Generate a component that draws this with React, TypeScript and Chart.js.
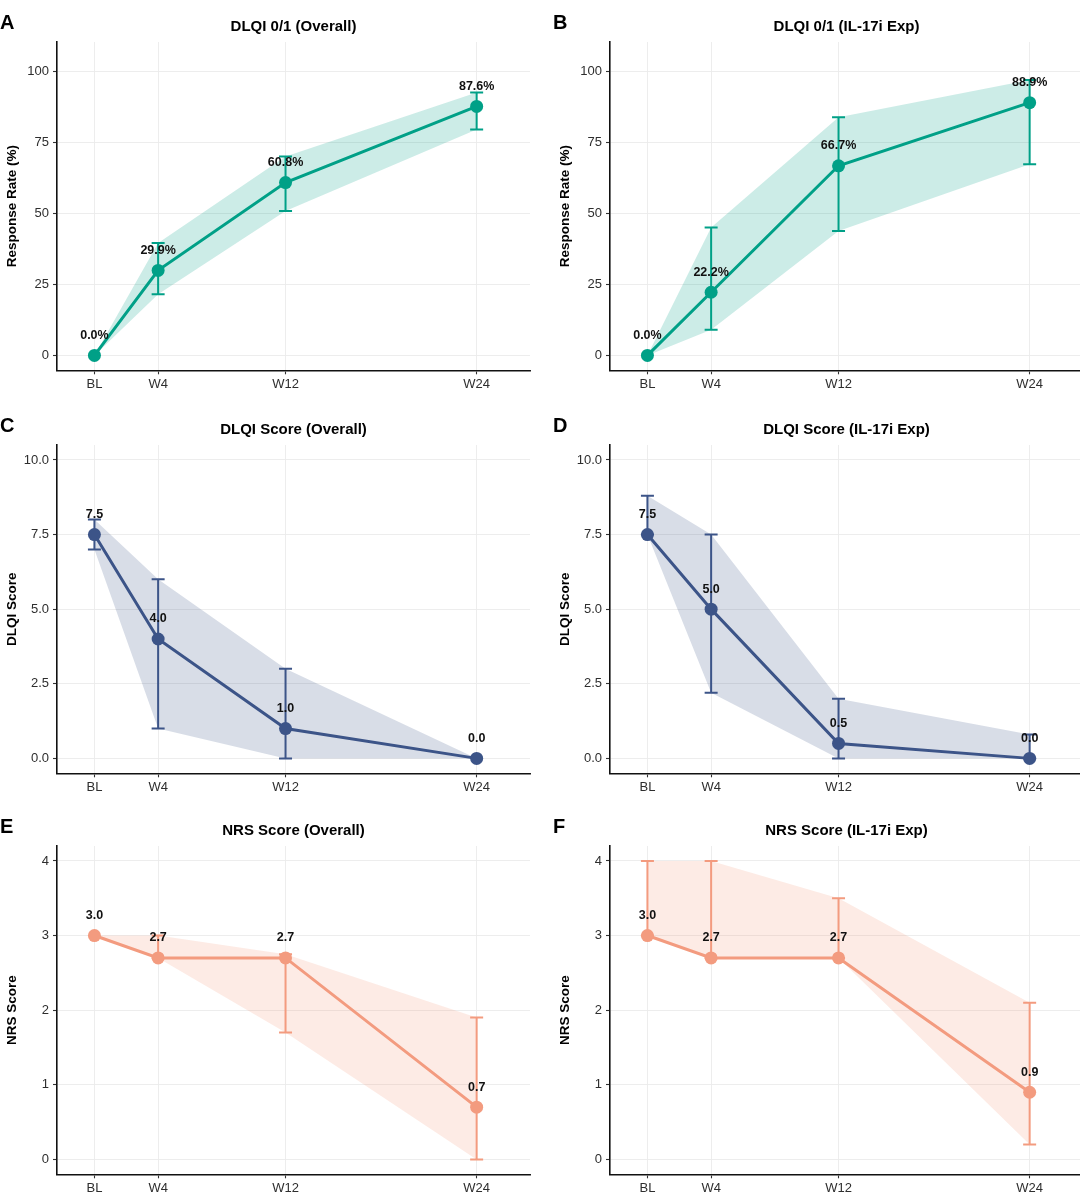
import React, { useEffect, useRef } from 'react';
import { Chart, registerables } from 'chart.js';

Chart.register(...registerables);

// ---------- data ----------
const weeks = [0, 4, 12, 24];
const weekLabels = ['BL', 'W4', 'W12', 'W24'];

const dlqi01OverallMean = [0.0, 29.9, 60.8, 87.6];
const dlqi01OverallLower = [0.0, 21.5, 50.8, 79.5];
const dlqi01OverallUpper = [0.0, 39.5, 70.0, 92.5];

const dlqi01Il17Mean = [0.0, 22.2, 66.7, 88.9];
const dlqi01Il17Lower = [0.0, 9.0, 43.8, 67.2];
const dlqi01Il17Upper = [0.0, 45.0, 83.8, 96.9];

const dlqiOverallMean = [7.5, 4.0, 1.0, 0.0];
const dlqiOverallLower = [7.0, 1.0, 0.0, 0.0];
const dlqiOverallUpper = [8.0, 6.0, 3.0, 0.0];

const dlqiIl17Mean = [7.5, 5.0, 0.5, 0.0];
const dlqiIl17Lower = [7.5, 2.2, 0.0, 0.0];
const dlqiIl17Upper = [8.8, 7.5, 2.0, 0.8];

const nrsOverallMean = [3.0, 2.7, 2.7, 0.7];
const nrsOverallLower = [3.0, 2.7, 1.7, 0.0];
const nrsOverallUpper = [3.0, 3.0, 2.75, 1.9];

const nrsIl17Mean = [3.0, 2.7, 2.7, 0.9];
const nrsIl17Lower = [3.0, 2.7, 2.7, 0.2];
const nrsIl17Upper = [4.0, 4.0, 3.5, 2.1];

const rateTicks = [0, 25, 50, 75, 100];
const dlqiTicks = [0, 2.5, 5, 7.5, 10];
const nrsTicks = [0, 1, 2, 3, 4];

const TEAL = '#00A087';
const NAVY = '#3C5488';
const SALMON = '#F39B7F';
const TEAL_FILL = 'rgba(0,160,135,0.2)';
const NAVY_FILL = 'rgba(60,84,136,0.2)';
const SALMON_FILL = 'rgba(243,155,127,0.2)';

const FONT = '"Liberation Sans", Arial, Helvetica, sans-serif';

type Panel = {
  letter: string;
  title: string;
  yTitle: string;
  mean: number[];
  lower: number[];
  upper: number[];
  color: string;
  fill: string;
  yMin: number;
  yMax: number;
  yTicks: number[];
  yDecimals: number;
  suffix: string;
  left: number;
  top: number;
};

const COL = [0, 553];
const ROW = [0, 402.5, 804];

const panels: Panel[] = [
  { letter: 'A', title: 'DLQI 0/1 (Overall)', yTitle: 'Response Rate (%)', mean: dlqi01OverallMean, lower: dlqi01OverallLower, upper: dlqi01OverallUpper, color: TEAL, fill: TEAL_FILL, yMin: -5.25, yMax: 110.25, yTicks: rateTicks, yDecimals: 0, suffix: '%', left: COL[0], top: ROW[0] },
  { letter: 'B', title: 'DLQI 0/1 (IL-17i Exp)', yTitle: 'Response Rate (%)', mean: dlqi01Il17Mean, lower: dlqi01Il17Lower, upper: dlqi01Il17Upper, color: TEAL, fill: TEAL_FILL, yMin: -5.25, yMax: 110.25, yTicks: rateTicks, yDecimals: 0, suffix: '%', left: COL[1], top: ROW[0] },
  { letter: 'C', title: 'DLQI Score (Overall)', yTitle: 'DLQI Score', mean: dlqiOverallMean, lower: dlqiOverallLower, upper: dlqiOverallUpper, color: NAVY, fill: NAVY_FILL, yMin: -0.5, yMax: 10.5, yTicks: dlqiTicks, yDecimals: 1, suffix: '', left: COL[0], top: ROW[1] },
  { letter: 'D', title: 'DLQI Score (IL-17i Exp)', yTitle: 'DLQI Score', mean: dlqiIl17Mean, lower: dlqiIl17Lower, upper: dlqiIl17Upper, color: NAVY, fill: NAVY_FILL, yMin: -0.5, yMax: 10.5, yTicks: dlqiTicks, yDecimals: 1, suffix: '', left: COL[1], top: ROW[1] },
  { letter: 'E', title: 'NRS Score (Overall)', yTitle: 'NRS Score', mean: nrsOverallMean, lower: nrsOverallLower, upper: nrsOverallUpper, color: SALMON, fill: SALMON_FILL, yMin: -0.2, yMax: 4.2, yTicks: nrsTicks, yDecimals: 0, suffix: '', left: COL[0], top: ROW[2] },
  { letter: 'F', title: 'NRS Score (IL-17i Exp)', yTitle: 'NRS Score', mean: nrsIl17Mean, lower: nrsIl17Lower, upper: nrsIl17Upper, color: SALMON, fill: SALMON_FILL, yMin: -0.2, yMax: 4.2, yTicks: nrsTicks, yDecimals: 0, suffix: '', left: COL[1], top: ROW[2] },
];

const CANVAS_W = 540;
const CANVAS_H = 400;

function PanelChart({ p }: { p: Panel }) {
  const ref = useRef<HTMLCanvasElement | null>(null);

  useEffect(() => {
    if (!ref.current) return;
    const pts = (arr: number[]) => weeks.map((w, i) => ({ x: w, y: arr[i] }));

    const decor = {
      id: 'decor',
      beforeDatasetDraw(chart: any, args: any) {
        if (args.index !== 0) return;
        const { ctx, scales } = chart;
        const x = scales.x;
        const y = scales.y;
        ctx.save();
        ctx.strokeStyle = p.color;
        ctx.lineWidth = 2;
        ctx.lineCap = 'butt';
        weeks.forEach((w, i) => {
          const px = x.getPixelForValue(w);
          const y1 = y.getPixelForValue(p.lower[i]);
          const y2 = y.getPixelForValue(p.upper[i]);
          if (Math.abs(y1 - y2) < 0.5) return;
          ctx.beginPath();
          ctx.moveTo(px, y1);
          ctx.lineTo(px, y2);
          ctx.moveTo(px - 6.5, y1);
          ctx.lineTo(px + 6.5, y1);
          ctx.moveTo(px - 6.5, y2);
          ctx.lineTo(px + 6.5, y2);
          ctx.stroke();
        });
        ctx.restore();
      },
      afterDatasetsDraw(chart: any) {
        const { ctx, scales } = chart;
        const x = scales.x;
        const y = scales.y;
        ctx.save();
        ctx.font = `bold 12.5px ${FONT}`;
        ctx.fillStyle = '#111';
        ctx.textAlign = 'center';
        ctx.textBaseline = 'middle';
        weeks.forEach((w, i) => {
          const px = x.getPixelForValue(w);
          const py = y.getPixelForValue(p.mean[i]);
          ctx.fillText(p.mean[i].toFixed(1) + p.suffix, px, py - 20);
        });
        ctx.restore();
      },
      afterDraw(chart: any) {
        const { ctx, chartArea } = chart;
        ctx.save();
        ctx.fillStyle = '#000';
        ctx.font = `bold 20px ${FONT}`;
        ctx.textAlign = 'left';
        ctx.textBaseline = 'alphabetic';
        ctx.fillText(p.letter, 0, 28.5);
        ctx.font = `bold 15px ${FONT}`;
        ctx.textAlign = 'center';
        ctx.fillText(p.title, (chartArea.left + chartArea.right) / 2, 30.5);
        ctx.restore();
      },
    };

    const chart = new Chart(ref.current, {
      type: 'line',
      data: {
        datasets: [
          {
            data: pts(p.mean),
            borderColor: p.color,
            backgroundColor: p.color,
            borderWidth: 3,
            pointRadius: 6.5,
            pointBorderWidth: 0,
            pointBackgroundColor: p.color,
            fill: false,
            tension: 0,
          },
          {
            data: pts(p.lower),
            borderColor: 'rgba(0,0,0,0)',
            borderWidth: 0,
            pointRadius: 0,
            fill: false,
            tension: 0,
          },
          {
            data: pts(p.upper),
            borderColor: 'rgba(0,0,0,0)',
            backgroundColor: p.fill,
            borderWidth: 0,
            pointRadius: 0,
            fill: '-1',
            tension: 0,
          },
        ],
      },
      options: {
        animation: false,
        responsive: false,
        maintainAspectRatio: false,
        events: [],
        layout: { padding: { top: 42, right: 10, left: 0, bottom: 0 } },
        plugins: {
          legend: { display: false },
          tooltip: { enabled: false },
          title: { display: false },
        },
        scales: {
          x: {
            type: 'linear',
            min: -2.35,
            max: 27.35,
            afterBuildTicks: (scale: any) => {
              scale.ticks = weeks.map((v) => ({ value: v }));
            },
            afterFit: (scale: any) => {
              scale.height = 29.7;
            },
            ticks: {
              autoSkip: false,
              maxRotation: 0,
              padding: 2,
              color: '#2e2e2e',
              font: { family: FONT, size: 13 },
              callback: (v: any) => {
                const i = weeks.indexOf(Number(v));
                return i >= 0 ? weekLabels[i] : '';
              },
            },
            grid: {
              color: '#ebebeb',
              lineWidth: 0.9,
              drawTicks: true,
              tickLength: 4,
              tickColor: '#333',
              tickWidth: 1.1,
            },
            border: { display: true, color: '#111', width: 1.6 },
          },
          y: {
            type: 'linear',
            min: p.yMin,
            max: p.yMax,
            afterBuildTicks: (scale: any) => {
              scale.ticks = p.yTicks.map((v) => ({ value: v }));
            },
            afterFit: (scale: any) => {
              scale.width = 57;
            },
            ticks: {
              padding: 4,
              color: '#2e2e2e',
              font: { family: FONT, size: 13 },
              callback: (v: any) => Number(v).toFixed(p.yDecimals),
            },
            grid: {
              color: '#ebebeb',
              lineWidth: 0.9,
              drawTicks: true,
              tickLength: 4,
              tickColor: '#333',
              tickWidth: 1.1,
            },
            border: { display: true, color: '#111', width: 1.6 },
            title: {
              display: true,
              text: p.yTitle,
              color: '#000',
              font: { family: FONT, size: 13.5, weight: 'bold' },
              padding: { top: 4, bottom: 0 },
            },
          },
        },
      },
      plugins: [decor],
    } as any);

    return () => chart.destroy();
  }, [p]);

  return (
    <div style={{ position: 'absolute', left: p.left, top: p.top, width: CANVAS_W, height: CANVAS_H }}>
      <canvas ref={ref} width={CANVAS_W} height={CANVAS_H} style={{ display: 'block', width: CANVAS_W, height: CANVAS_H }} />
    </div>
  );
}

export default function App() {
  return (
    <div
      style={{
        position: 'absolute',
        left: 0,
        top: 0,
        width: 1080,
        height: 1195,
        overflow: 'hidden',
        background: '#fff',
      }}
    >
      {panels.map((p) => (
        <PanelChart key={p.letter} p={p} />
      ))}
    </div>
  );
}
